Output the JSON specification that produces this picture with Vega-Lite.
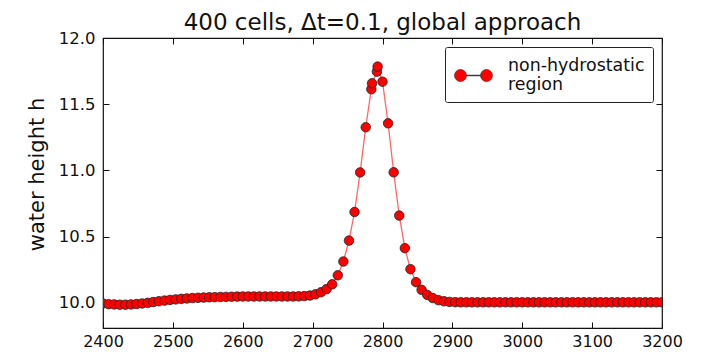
{
  "$schema": "https://vega.github.io/schema/vega-lite/v6.json",
  "width": 559,
  "height": 290,
  "autosize": "none",
  "padding": {"left": 103, "top": 38, "right": 43, "bottom": 28},
  "title": {"text": "400 cells, Δt=0.1, global approach", "fontSize": 23, "fontWeight": "normal", "font": "DejaVu Sans", "color": "#111", "anchor": "middle", "baseline": "alphabetic", "offset": -23},
  "config": {
    "font": "DejaVu Sans",
    "view": {"stroke": "#111", "strokeWidth": 1.2},
    "axis": {"grid": false, "domain": false, "labelFlush": false, "tickColor": "#111", "tickWidth": 1, "labelColor": "#111", "labelFont": "DejaVu Sans", "titleFont": "DejaVu Sans", "titleColor": "#111", "titleFontWeight": "normal"}
  },
  "data": {"values": [
    {"i":0,"x":2400,"h":9.995,"s":"nh"},{"i":1,"x":2408,"h":9.99,"s":"nh"},{"i":2,"x":2416,"h":9.988,"s":"nh"},{"i":3,"x":2424,"h":9.986,"s":"nh"},
    {"i":4,"x":2432,"h":9.986,"s":"nh"},{"i":5,"x":2440,"h":9.988,"s":"nh"},{"i":6,"x":2448,"h":9.991,"s":"nh"},{"i":7,"x":2456,"h":9.995,"s":"nh"},
    {"i":8,"x":2464,"h":10.0,"s":"nh"},{"i":9,"x":2472,"h":10.006,"s":"nh"},{"i":10,"x":2480,"h":10.012,"s":"nh"},{"i":11,"x":2488,"h":10.017,"s":"nh"},
    {"i":12,"x":2496,"h":10.022,"s":"nh"},{"i":13,"x":2504,"h":10.026,"s":"nh"},{"i":14,"x":2512,"h":10.03,"s":"nh"},{"i":15,"x":2520,"h":10.033,"s":"nh"},
    {"i":16,"x":2528,"h":10.036,"s":"nh"},{"i":17,"x":2536,"h":10.038,"s":"nh"},{"i":18,"x":2544,"h":10.04,"s":"nh"},{"i":19,"x":2552,"h":10.042,"s":"nh"},
    {"i":20,"x":2560,"h":10.043,"s":"nh"},{"i":21,"x":2568,"h":10.044,"s":"nh"},{"i":22,"x":2576,"h":10.045,"s":"nh"},{"i":23,"x":2584,"h":10.046,"s":"nh"},
    {"i":24,"x":2592,"h":10.047,"s":"nh"},{"i":25,"x":2600,"h":10.048,"s":"nh"},{"i":26,"x":2608,"h":10.048,"s":"nh"},{"i":27,"x":2616,"h":10.048,"s":"nh"},
    {"i":28,"x":2624,"h":10.048,"s":"nh"},{"i":29,"x":2632,"h":10.048,"s":"nh"},{"i":30,"x":2640,"h":10.048,"s":"nh"},{"i":31,"x":2648,"h":10.048,"s":"nh"},
    {"i":32,"x":2656,"h":10.048,"s":"nh"},{"i":33,"x":2664,"h":10.048,"s":"nh"},{"i":34,"x":2672,"h":10.048,"s":"nh"},{"i":35,"x":2680,"h":10.049,"s":"nh"},
    {"i":36,"x":2688,"h":10.051,"s":"nh"},{"i":37,"x":2696,"h":10.055,"s":"nh"},{"i":38,"x":2704,"h":10.064,"s":"nh"},{"i":39,"x":2712,"h":10.08,"s":"nh"},
    {"i":40,"x":2720,"h":10.104,"s":"nh"},{"i":41,"x":2728,"h":10.14,"s":"nh"},{"i":42,"x":2736,"h":10.208,"s":"nh"},{"i":43,"x":2744,"h":10.312,"s":"nh"},
    {"i":44,"x":2752,"h":10.47,"s":"nh"},{"i":45,"x":2760,"h":10.686,"s":"nh"},{"i":46,"x":2768,"h":10.985,"s":"nh"},{"i":47,"x":2776,"h":11.326,"s":"nh"},
    {"i":48,"x":2784,"h":11.613,"s":"nh"},{"i":49,"x":2785,"h":11.658,"s":"nh"},{"i":50,"x":2792,"h":11.746,"s":"nh"},{"i":51,"x":2793,"h":11.784,"s":"nh"},
    {"i":52,"x":2800,"h":11.67,"s":"nh"},{"i":53,"x":2808,"h":11.356,"s":"nh"},{"i":54,"x":2816,"h":10.986,"s":"nh"},{"i":55,"x":2824,"h":10.659,"s":"nh"},
    {"i":56,"x":2832,"h":10.413,"s":"nh"},{"i":57,"x":2840,"h":10.254,"s":"nh"},{"i":58,"x":2848,"h":10.156,"s":"nh"},{"i":59,"x":2856,"h":10.098,"s":"nh"},
    {"i":60,"x":2864,"h":10.06,"s":"nh"},{"i":61,"x":2872,"h":10.036,"s":"nh"},{"i":62,"x":2880,"h":10.02,"s":"nh"},{"i":63,"x":2888,"h":10.012,"s":"nh"},
    {"i":64,"x":2896,"h":10.007,"s":"nh"},{"i":65,"x":2904,"h":10.005,"s":"nh"},{"i":66,"x":2912,"h":10.004,"s":"nh"},{"i":67,"x":2920,"h":10.004,"s":"nh"},
    {"i":68,"x":2928,"h":10.004,"s":"nh"},{"i":69,"x":2936,"h":10.004,"s":"nh"},{"i":70,"x":2944,"h":10.004,"s":"nh"},{"i":71,"x":2952,"h":10.004,"s":"nh"},
    {"i":72,"x":2960,"h":10.004,"s":"nh"},{"i":73,"x":2968,"h":10.004,"s":"nh"},{"i":74,"x":2976,"h":10.004,"s":"nh"},{"i":75,"x":2984,"h":10.004,"s":"nh"},
    {"i":76,"x":2992,"h":10.004,"s":"nh"},{"i":77,"x":3000,"h":10.004,"s":"nh"},{"i":78,"x":3008,"h":10.004,"s":"nh"},{"i":79,"x":3016,"h":10.004,"s":"nh"},
    {"i":80,"x":3024,"h":10.004,"s":"nh"},{"i":81,"x":3032,"h":10.004,"s":"nh"},{"i":82,"x":3040,"h":10.004,"s":"nh"},{"i":83,"x":3048,"h":10.004,"s":"nh"},
    {"i":84,"x":3056,"h":10.004,"s":"nh"},{"i":85,"x":3064,"h":10.004,"s":"nh"},{"i":86,"x":3072,"h":10.004,"s":"nh"},{"i":87,"x":3080,"h":10.004,"s":"nh"},
    {"i":88,"x":3088,"h":10.004,"s":"nh"},{"i":89,"x":3096,"h":10.004,"s":"nh"},{"i":90,"x":3104,"h":10.004,"s":"nh"},{"i":91,"x":3112,"h":10.004,"s":"nh"},
    {"i":92,"x":3120,"h":10.004,"s":"nh"},{"i":93,"x":3128,"h":10.004,"s":"nh"},{"i":94,"x":3136,"h":10.004,"s":"nh"},{"i":95,"x":3144,"h":10.004,"s":"nh"},
    {"i":96,"x":3152,"h":10.004,"s":"nh"},{"i":97,"x":3160,"h":10.004,"s":"nh"},{"i":98,"x":3168,"h":10.004,"s":"nh"},{"i":99,"x":3176,"h":10.004,"s":"nh"},
    {"i":100,"x":3184,"h":10.004,"s":"nh"},{"i":101,"x":3192,"h":10.004,"s":"nh"},{"i":102,"x":3200,"h":10.004,"s":"nh"}
  ]},
  "layer": [
    {
      "mark": {"type": "line", "color": "#ff4040", "strokeWidth": 1.3, "opacity": 0.8, "clip": true},
      "encoding": {
        "x": {"field": "x", "type": "quantitative", "scale": {"domain": [2400, 3200], "nice": false, "zero": false},
              "axis": {"orient": "bottom", "values": [2400,2500,2600,2700,2800,2900,3000,3100,3200], "format": "d", "tickSize": -6, "labelPadding": 11, "labelFontSize": 16, "title": null}},
        "y": {"field": "h", "type": "quantitative", "scale": {"domain": [9.81, 12.0], "nice": false, "zero": false},
              "axis": {"orient": "left", "values": [10,10.5,11,11.5,12], "format": ".1f", "tickSize": -6, "labelPadding": 14, "labelFontSize": 16.5, "title": "water height h", "titleFontSize": 21, "titlePadding": 11, "titleY": 136}},
        "order": {"field": "i", "type": "quantitative"}
      }
    },
    {
      "mark": {"type": "point", "filled": true, "size": 90, "stroke": "#222", "strokeWidth": 0.8, "opacity": 1, "clip": true},
      "encoding": {
        "x": {"field": "x", "type": "quantitative",
              "axis": {"orient": "top", "values": [2400,2500,2600,2700,2800,2900,3000,3100,3200], "labels": false, "tickSize": -6, "title": null}},
        "y": {"field": "h", "type": "quantitative",
              "axis": {"orient": "right", "values": [10,10.5,11,11.5,12], "labels": false, "tickSize": -6, "title": null}},
        "color": {"field": "s", "type": "nominal", "scale": {"domain": ["nh"], "range": ["#ff0000"]},
                  "legend": {"title": null, "orient": "top-right", "offset": 9, "padding": 8,
                             "symbolType": "M-0.95,0A0.3,0.3 0 1,0 -0.35,0A0.3,0.3 0 1,0 -0.95,0Z M-0.35,-0.02L0.35,-0.02L0.35,0.02L-0.35,0.02Z M0.35,0A0.3,0.3 0 1,0 0.95,0A0.3,0.3 0 1,0 0.35,0Z",
                             "symbolSize": 1600, "symbolFillColor": "#ff0000", "symbolStrokeColor": "#333", "symbolStrokeWidth": 0.6, "symbolOpacity": 1,
                             "labelExpr": "['non-hydrostatic', '\u00a0region']", "labelFontSize": 17.4, "labelBaseline": "line-bottom", "labelColor": "#111", "labelOffset": 14,
                             "strokeColor": "#222", "fillColor": "white", "cornerRadius": 2}}
      }
    }
  ]
}
